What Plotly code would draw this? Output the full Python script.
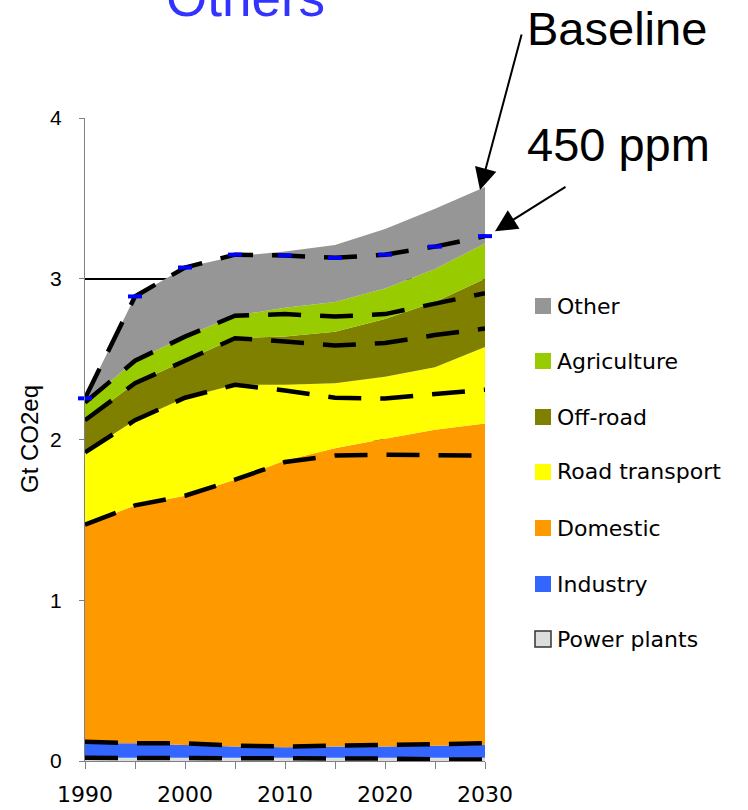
import plotly.graph_objects as go

# Years shown on the horizontal axis
years = [1990, 1995, 2000, 2005, 2010, 2015, 2020, 2025, 2030]

# Sector names, bottom of the stack first
sectors = ["Power plants", "Industry", "Domestic", "Road transport",
           "Off-road", "Agriculture", "Other"]
sector_colors = ["#DDDDDD", "#3366FF", "#FF9900", "#FFFF00",
                 "#808000", "#99CC00", "#969696"]

# Baseline emissions per sector (Gt CO2eq)
base_power = [0.02, 0.02, 0.02, 0.02, 0.02, 0.02, 0.02, 0.02, 0.02]
base_industry = [0.09, 0.09, 0.08, 0.07, 0.065, 0.07, 0.07, 0.075, 0.08]
base_domestic = [1.36, 1.48, 1.55, 1.66, 1.785, 1.855, 1.915, 1.965, 2.00]
base_road = [0.45, 0.53, 0.61, 0.59, 0.47, 0.405, 0.385, 0.39, 0.475]
base_offroad = [0.20, 0.23, 0.23, 0.29, 0.30, 0.32, 0.36, 0.405, 0.425]
base_agri = [0.11, 0.14, 0.15, 0.14, 0.18, 0.185, 0.19, 0.205, 0.22]
base_other = [0.026, 0.40, 0.43, 0.37, 0.35, 0.355, 0.37, 0.375, 0.35]

# 450 ppm scenario emissions per sector (Gt CO2eq)
ppm_power = [0.02, 0.02, 0.02, 0.02, 0.02, 0.02, 0.015, 0.01, 0.01]
ppm_industry = [0.10, 0.09, 0.09, 0.075, 0.07, 0.075, 0.085, 0.09, 0.10]
ppm_domestic = [1.35, 1.48, 1.54, 1.655, 1.77, 1.805, 1.805, 1.805, 1.79]
ppm_road = [0.45, 0.53, 0.61, 0.59, 0.445, 0.36, 0.35, 0.38, 0.41]
ppm_offroad = [0.20, 0.23, 0.23, 0.29, 0.305, 0.325, 0.345, 0.365, 0.38]
ppm_agri = [0.11, 0.14, 0.15, 0.14, 0.17, 0.18, 0.18, 0.195, 0.22]
ppm_other = [0.026, 0.40, 0.43, 0.38, 0.365, 0.365, 0.37, 0.355, 0.355]

baseline = [base_power, base_industry, base_domestic, base_road,
            base_offroad, base_agri, base_other]
scenario = [ppm_power, ppm_industry, ppm_domestic, ppm_road,
            ppm_offroad, ppm_agri, ppm_other]

fig = go.Figure()

# Stacked baseline areas
for name, color, vals in zip(sectors, sector_colors, baseline):
    fig.add_trace(go.Scatter(
        x=years, y=vals, name=name, stackgroup="baseline",
        mode="lines", line=dict(width=0), fillcolor=color,
        showlegend=False,
    ))

# Stacked 450 ppm scenario drawn as dashed outlines
for i, (name, vals) in enumerate(zip(sectors, scenario)):
    top = i == len(sectors) - 1
    fig.add_trace(go.Scatter(
        x=years, y=vals, name=name + " (450 ppm)", stackgroup="ppm450",
        fill="none", mode="lines+markers" if top else "lines",
        line=dict(color="black", width=4.5, dash="33px,19px"),
        marker=dict(symbol="line-ew", size=10,
                    line=dict(color="#0000FF", width=4)),
        cliponaxis=False, showlegend=False,
    ))

# Plot-area geometry in pixels, used to place the surrounding text
L, R, T, B = 85, 263, 118, 49
W, H = 748, 810
pw, ph = W - L - R, H - T - B


def px(x):
    return (x - L) / pw


def py(y):
    return (H - B - y) / ph


annotations = []
shapes = []

# Custom legend, top entry first
legend_rows = [306, 361, 417, 472, 528, 584, 639]
for name, color, yc in zip(sectors[::-1], sector_colors[::-1], legend_rows):
    is_power = name == "Power plants"
    shapes.append(dict(
        type="rect", xref="paper", yref="paper",
        x0=px(535), x1=px(551), y0=py(yc + 8), y1=py(yc - 8),
        fillcolor=color,
        line=dict(color="#333333" if is_power else color,
                  width=1.5 if is_power else 0),
    ))
    annotations.append(dict(
        text=name, xref="paper", yref="paper", x=px(555), y=py(yc),
        xanchor="left", yanchor="middle", showarrow=False,
        font=dict(family="DejaVu Sans", size=22, color="black"),
    ))

# Title, axis title and scenario labels
annotations += [
    dict(text="Others", xref="paper", yref="paper", x=px(245), y=py(-2),
         xanchor="center", yanchor="middle", showarrow=False,
         font=dict(family="Liberation Sans", size=53, color="#3333FF")),
    dict(text="Gt CO2eq", xref="paper", yref="paper", x=px(30), y=py(439),
         xanchor="center", yanchor="middle", textangle=-90, showarrow=False,
         font=dict(family="Liberation Sans", size=24, color="black")),
    dict(text="Baseline", xref="paper", yref="paper", x=px(525), y=py(28),
         xanchor="left", yanchor="middle", showarrow=False,
         font=dict(family="Liberation Sans", size=47, color="black")),
    dict(text="450 ppm", xref="paper", yref="paper", x=px(525), y=py(145),
         xanchor="left", yanchor="middle", showarrow=False,
         font=dict(family="Liberation Sans", size=47, color="black")),
]

# Arrows from the labels to the 2030 totals (tips in plot coordinates,
# tails given as pixel offsets)
base_total_2030 = sum(v[-1] for v in baseline)
ppm_total_2030 = sum(v[-1] for v in scenario)
tip_base = (480, H - B - base_total_2030 * ph / 4 + 3)
tip_ppm = (495, H - B - ppm_total_2030 * ph / 4 - 5)
annotations += [
    dict(text="", xref="paper", yref="paper",
         x=px(tip_base[0]), y=py(tip_base[1]),
         ax=522 - tip_base[0], ay=33 - tip_base[1], axref="pixel",
         ayref="pixel", showarrow=True,
         arrowhead=2, arrowsize=2.2, arrowwidth=2, arrowcolor="black"),
    dict(text="", xref="paper", yref="paper",
         x=px(tip_ppm[0]), y=py(tip_ppm[1]),
         ax=567 - tip_ppm[0], ay=186 - tip_ppm[1], axref="pixel",
         ayref="pixel", showarrow=True,
         arrowhead=2, arrowsize=2.2, arrowwidth=2, arrowcolor="black"),
]

fig.update_layout(
    width=W, height=H,
    margin=dict(l=L, r=R, t=T, b=B, pad=0, autoexpand=False),
    paper_bgcolor="white", plot_bgcolor="white",
    showlegend=False,
    annotations=annotations, shapes=shapes,
    xaxis=dict(
        range=[1990, 2030], tickmode="linear", tick0=1990, dtick=10,
        ticks="outside", ticklen=7, tickwidth=1, tickcolor="#808080",
        showline=True, linecolor="#808080", linewidth=1,
        showgrid=False, zeroline=False, ticklabelstandoff=7,
        automargin=False,
        tickfont=dict(family="DejaVu Sans", size=22, color="black"),
        minor=dict(tickmode="linear", tick0=1990, dtick=5, ticks="outside",
                   ticklen=7, tickcolor="#808080", showgrid=False),
    ),
    yaxis=dict(
        range=[0, 4], tickmode="linear", tick0=0, dtick=1,
        ticks="outside", ticklen=5, tickwidth=1, tickcolor="#808080",
        showline=True, linecolor="#808080", linewidth=1,
        showgrid=True, gridcolor="black", gridwidth=1.6,
        zeroline=False, ticklabelstandoff=13, automargin=False,
        tickfont=dict(family="Liberation Sans", size=21, color="black"),
    ),
)

fig.write_html("out.html")
